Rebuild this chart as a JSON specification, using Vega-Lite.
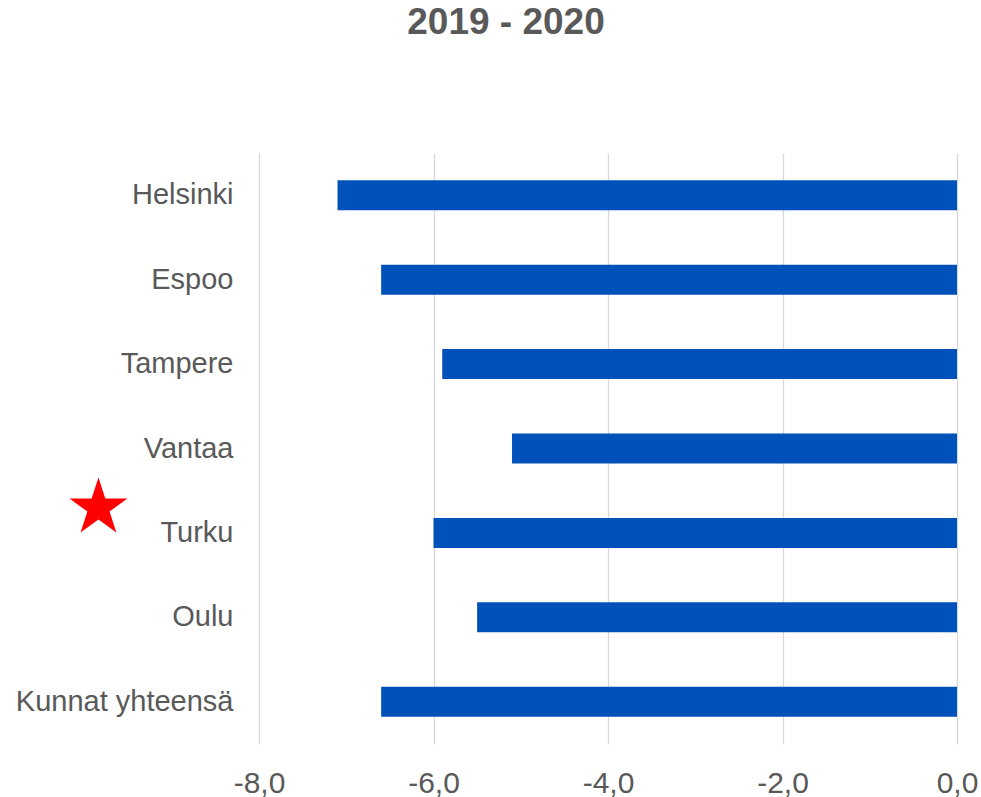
{
  "$schema": "https://vega.github.io/schema/vega-lite/v6.json",
  "width": 698,
  "height": 591,
  "autosize": {"type": "none"},
  "padding": {"left": 259, "top": 153, "right": 24, "bottom": 53},
  "background": "white",
  "config": {
    "view": {"stroke": null},
    "font": "Liberation Sans"
  },
  "title": {
    "text": "2019 - 2020",
    "font": "Liberation Sans",
    "fontSize": 37,
    "fontWeight": "bold",
    "color": "#595959",
    "anchor": "middle",
    "frame": "group",
    "dx": -102,
    "offset": 82,
    "baseline": "alphabetic"
  },
  "datasets": {
    "bars": [
      {"kunta": "Helsinki", "muutos": -7.1},
      {"kunta": "Espoo", "muutos": -6.6},
      {"kunta": "Tampere", "muutos": -5.9},
      {"kunta": "Vantaa", "muutos": -5.1},
      {"kunta": "Turku", "muutos": -6.0},
      {"kunta": "Oulu", "muutos": -5.5},
      {"kunta": "Kunnat yhteensä", "muutos": -6.6}
    ],
    "marker": [
      {"kunta": "Turku", "pos": -9.84}
    ]
  },
  "layer": [
    {
      "data": {"name": "bars"},
      "mark": {"type": "bar", "color": "#0051BA"},
      "encoding": {
        "y": {
          "field": "kunta",
          "type": "nominal",
          "sort": null,
          "scale": {"paddingInner": 0.645, "paddingOuter": 0.3225},
          "axis": {
            "title": null,
            "domain": false,
            "ticks": false,
            "labelFontSize": 29,
            "labelColor": "#595959",
            "labelPadding": 26,
            "labelLimit": 400,
            "grid": false
          }
        },
        "x": {
          "field": "muutos",
          "type": "quantitative",
          "scale": {"domain": [-8, 0], "nice": false},
          "axis": {
            "title": null,
            "values": [-8, -6, -4, -2, 0],
            "labelExpr": "(datum.value < 0 ? '-' : '') + replace(format(abs(datum.value), '.1f'), '.', ',')",
            "domain": false,
            "ticks": false,
            "grid": true,
            "gridColor": "#D9D9D9",
            "gridWidth": 1.3,
            "labelFlush": false,
            "labelOverlap": false,
            "labelFontSize": 30,
            "labelColor": "#595959",
            "labelPadding": 24
          }
        }
      }
    },
    {
      "data": {"name": "marker"},
      "mark": {
        "type": "point",
        "shape": "M0,-1L0.2245,-0.309L0.951,-0.309L0.363,0.118L0.588,0.809L0,0.382L-0.588,0.809L-0.363,0.118L-0.951,-0.309L-0.2245,-0.309Z",
        "filled": true,
        "color": "#FF0000",
        "opacity": 1,
        "size": 3721,
        "yOffset": -25,
        "clip": false
      },
      "encoding": {
        "y": {"field": "kunta", "type": "nominal", "sort": null},
        "x": {"field": "pos", "type": "quantitative"}
      }
    }
  ]
}
